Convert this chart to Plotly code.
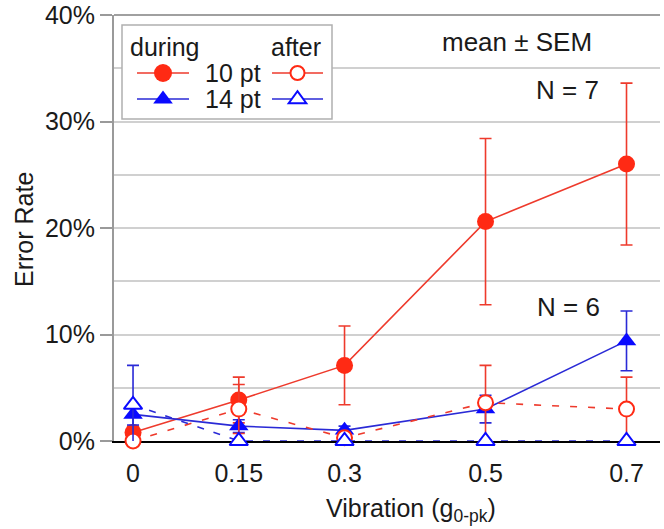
import plotly.graph_objects as go

# ---- data (error rate in %) ----
vibration = [0, 0.15, 0.3, 0.5, 0.7]
x_tick_labels = ["0", "0.15", "0.3", "0.5", "0.7"]

during_10pt = [0.8, 3.85, 7.1, 20.6, 26.0]
during_10pt_sem = [0.6, 2.15, 3.7, 7.8, 7.6]
after_10pt = [0.0, 3.0, 0.3, 3.6, 3.0]
after_10pt_sem = [0.3, 2.3, 0.5, 3.5, 3.0]

during_14pt = [2.5, 1.4, 1.0, 3.0, 9.4]
during_14pt_sem = [1.0, 0.6, 0.4, 1.3, 2.8]
after_14pt = [3.4, 0.0, 0.0, 0.0, 0.0]
after_14pt_sem = [3.7, 0.0, 0.0, 0.0, 0.0]

y_tick_vals = [0, 10, 20, 30, 40]
y_tick_labels = ["0%", "10%", "20%", "30%", "40%"]

RED = "#ff2a14"
RED_LINE = "#ee3a2c"
BLUE = "#0a0aff"
BLUE_LINE = "#2a2ad6"
FONT = "Liberation Sans, Arial, sans-serif"
TXT = "#1a1a1a"
FS = 25

W, H = 664, 529
ML, MR, MT, MB = 114, 4, 15, 88
PW = W - ML - MR
PH = H - MT - MB


def px_x(p):
    return (p - ML) / PW


def px_y(p):
    return (H - MB - p) / PH


fig = go.Figure()


def add_series(y, sem, color, lcolor, symbol, filled, dash, size):
    fig.add_trace(go.Scatter(
        x=vibration, y=y, mode="lines+markers",
        line=dict(color=lcolor, width=1.6, dash=dash),
        marker=dict(symbol=symbol, size=size,
                    color=color if filled else "white",
                    line=dict(color=color, width=0 if filled else 2)),
        error_y=dict(type="data", array=sem, visible=True,
                     color=lcolor, thickness=1.6, width=6),
        cliponaxis=False, showlegend=False))


add_series(during_10pt, during_10pt_sem, RED, RED_LINE, "circle", True, "solid", 17)
add_series(during_14pt, during_14pt_sem, BLUE, BLUE_LINE, "triangle-up", True, "solid", 17)
add_series(after_10pt, after_10pt_sem, RED, RED_LINE, "circle", False, "7px,11px", 15)
add_series(after_14pt, after_14pt_sem, BLUE, BLUE_LINE, "triangle-up", False, "7px,10px", 16)

# ---- custom two-column legend (layout shapes in paper coordinates) ----
shapes = []
shapes.append(dict(type="rect", xref="paper", yref="paper", layer="above",
                   x0=px_x(122), x1=px_x(332), y0=px_y(119), y1=px_y(25),
                   line=dict(color="#b0b0b0", width=1.5), fillcolor="white"))


def leg_glyph(x0, x1, yc, color, lcolor, kind, filled):
    shapes.append(dict(type="line", xref="paper", yref="paper", layer="above",
                       x0=px_x(x0), x1=px_x(x1), y0=px_y(yc), y1=px_y(yc),
                       line=dict(color=lcolor, width=1.6)))
    xc = px_x((x0 + x1) / 2)
    common = dict(xref="paper", yref="paper", layer="above", xsizemode="pixel",
                  ysizemode="pixel", xanchor=xc, yanchor=px_y(yc),
                  fillcolor=color if filled else "white",
                  line=dict(color=color, width=0 if filled else 2))
    if kind == "circle":
        r = 9 if filled else 7
        shapes.append(dict(type="circle", x0=-r, x1=r, y0=-r, y1=r, **common))
    else:
        if filled:
            path = "M-9.8,-4.6 L9.8,-4.6 L0,8.6 Z"
        else:
            path = "M-8.8,-4.2 L8.8,-4.2 L0,7.8 Z"
        shapes.append(dict(type="path", path=path, **common))


leg_glyph(137, 189, 73, RED, RED_LINE, "circle", True)
leg_glyph(272, 323, 73, RED, RED_LINE, "circle", False)
leg_glyph(137, 189, 99, BLUE, BLUE_LINE, "triangle", True)
leg_glyph(272, 323, 99, BLUE, BLUE_LINE, "triangle", False)

# top frame line
shapes.append(dict(type="line", xref="paper", yref="paper", x0=0, x1=1, y0=1, y1=1,
                   line=dict(color="#a0a0a0", width=2), layer="above"))

annotations = []
leg_texts = [("during", 128, 47, "left"), ("after", 323, 47, "right"),
             ("10 pt", 233, 73, "center"), ("14 pt", 233, 99, "center")]
for t, lx, ly, anc in leg_texts:
    annotations.append(dict(text=t, x=px_x(lx), y=px_y(ly), xref="paper", yref="paper",
                            showarrow=False, xanchor=anc, yanchor="middle",
                            font=dict(size=FS, color=TXT, family=FONT)))

notes = [("mean ± SEM", 517, 42), ("N = 7", 567, 90), ("N = 6", 568, 307)]
for t, ax, ay in notes:
    annotations.append(dict(text=t, x=px_x(ax), y=px_y(ay), xref="paper", yref="paper",
                            showarrow=False, xanchor="center", yanchor="middle",
                            font=dict(size=26, color=TXT, family=FONT)))

annotations.append(dict(text="Vibration (g<sub>0-pk</sub>)", x=px_x(411), y=px_y(510),
                        xref="paper", yref="paper", showarrow=False, xanchor="center",
                        yanchor="middle", font=dict(size=FS, color=TXT, family=FONT)))
annotations.append(dict(text="Error Rate", x=px_x(24), y=px_y(230), xref="paper",
                        yref="paper", showarrow=False, textangle=-90, xanchor="center",
                        yanchor="middle", font=dict(size=FS, color=TXT, family=FONT)))

fig.update_layout(
    width=W, height=H, margin=dict(l=ML, r=MR, t=MT, b=MB),
    paper_bgcolor="white", plot_bgcolor="white",
    font=dict(family=FONT, size=FS, color=TXT),
    shapes=shapes, annotations=annotations,
    xaxis=dict(range=[-0.027, 0.7475], tickmode="array", tickvals=vibration,
               ticktext=x_tick_labels, showgrid=False, zeroline=False,
               showline=True, linecolor="black", linewidth=2, ticks="",
               ticklabelstandoff=9, layer="below traces", automargin=False,
               tickfont=dict(size=FS, color=TXT, family=FONT)),
    yaxis=dict(range=[0, 40], tickmode="array", tickvals=y_tick_vals,
               ticktext=y_tick_labels, automargin=False,
               showgrid=True, gridcolor="#d0d0d0", gridwidth=1.5, zeroline=False,
               showline=True, linecolor="#9a9a9a", linewidth=2,
               ticks="outside", ticklen=12, tickwidth=1.5, tickcolor="#9a9a9a",
               minor=dict(dtick=5, tick0=0, showgrid=True, gridcolor="#d0d0d0",
                          gridwidth=1.5, ticks=""),
               layer="below traces",
               tickfont=dict(size=FS, color=TXT, family=FONT)),
)

# remove the browser's default 8px page margin so the figure sits at the window origin
fig.write_html("out.html",
               config={"displayModeBar": False},
               post_script="document.body.style.margin='0';document.body.style.padding='0';")
